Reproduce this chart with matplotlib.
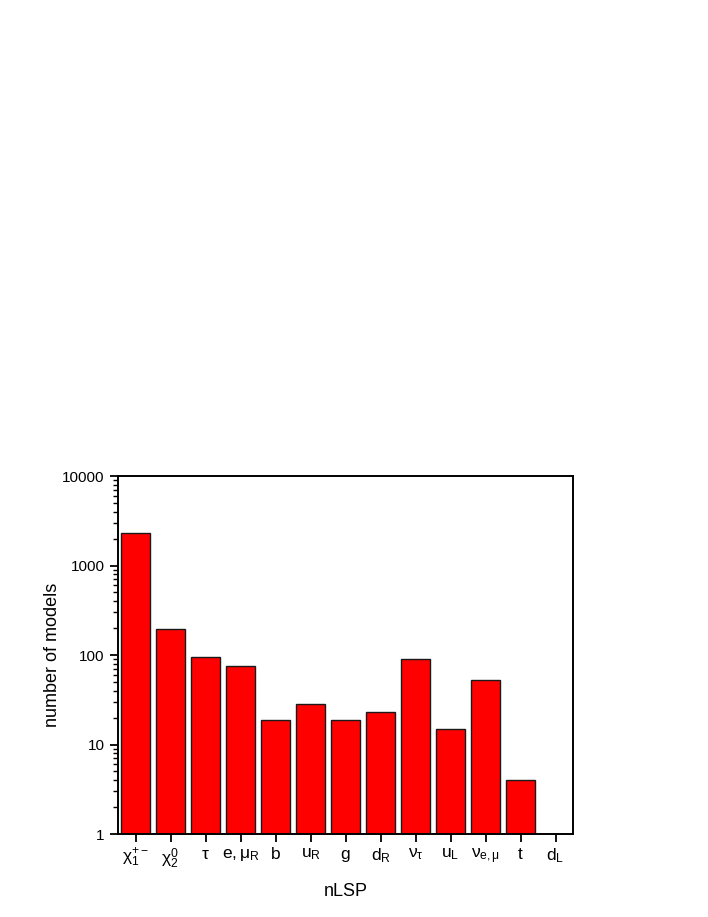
import matplotlib
matplotlib.use("Agg")
import matplotlib.pyplot as plt
from matplotlib.ticker import LogLocator, NullFormatter

plt.rcParams['font.family'] = ['Liberation Sans', 'DejaVu Sans']
plt.rcParams['mathtext.fontset'] = 'custom'
plt.rcParams['mathtext.rm'] = 'Liberation Sans'
plt.rcParams['mathtext.it'] = 'Liberation Sans'
plt.rcParams['mathtext.bf'] = 'Liberation Sans:bold'

# nLSP species and how many models have each one
labels = [r'$\chi_1^{+-}$', r'$\chi_2^0$', r'$\tau$', r'$\mathrm{e},\mu_R$', 'b',
          r'$\mathrm{u}_R$', 'g', r'$\mathrm{d}_R$', r'$\nu_\tau$', r'$\mathrm{u}_L$',
          r'$\nu_{e,\mu}$', 't', r'$\mathrm{d}_L$']
counts = [2330, 194, 95, 75, 19, 28, 19, 23, 90, 15, 52, 4, 1]

fig = plt.figure(figsize=(7.08, 9.17), dpi=100)
ax = fig.add_axes([0.1667, 0.0905, 0.6427, 0.3904])

pos = list(range(1, len(counts) + 1))
ax.bar(pos, counts, width=0.81, bottom=0.0, color='#ff0000',
       edgecolor='#1a1a1a', linewidth=1.0)

ax.set_yscale('log')
ax.set_ylim(1, 10000)
ax.set_xlim(0.5, len(counts) + 0.5)

ax.set_xticks(pos)
ax.set_xticklabels(labels, fontsize=12.5)
ax.set_yticks([1, 10, 100, 1000, 10000])
ax.set_yticklabels(['1', '10', '100', '1000', '10000'], fontsize=11)
ax.yaxis.set_minor_locator(LogLocator(base=10, subs=range(2, 10)))
ax.yaxis.set_minor_formatter(NullFormatter())

ax.tick_params(axis='both', which='major', direction='out', length=6, width=1.3)
ax.tick_params(axis='y', which='minor', direction='out', length=3.5, width=1.0)
ax.tick_params(axis='x', pad=3)
ax.tick_params(top=False, right=False)

for s in ax.spines.values():
    s.set_linewidth(1.4)

ax.set_xlabel('nLSP', fontsize=13, labelpad=9)
ax.set_ylabel('number of models', fontsize=13, labelpad=1)

fig.savefig('out.png', dpi=100)
